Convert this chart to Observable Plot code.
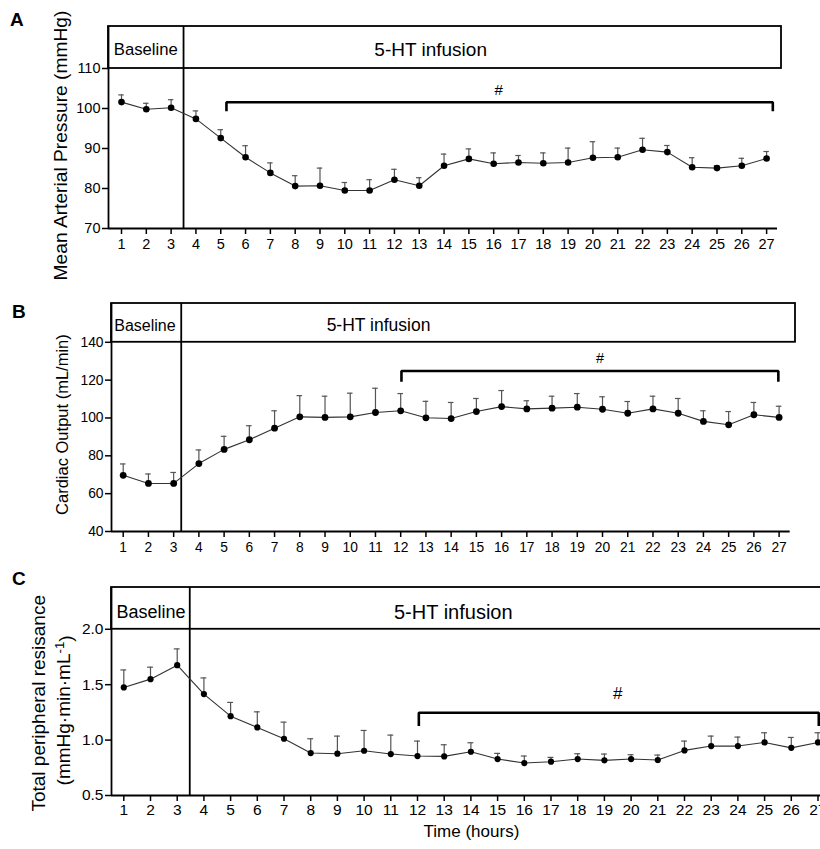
<!DOCTYPE html>
<html><head><meta charset="utf-8">
<script src="https://cdn.jsdelivr.net/npm/d3@7"></script>
<script src="https://cdn.jsdelivr.net/npm/@observablehq/plot@0.6"></script>
<style>
body{margin:0;background:#fff;overflow:hidden;font-family:"Liberation Sans",Arial,sans-serif;}
#wrap{position:relative;width:820px;height:849px;overflow:hidden;background:#fff;}
.panel{position:absolute;left:0;}
.letter{position:absolute;font-weight:bold;font-size:19px;line-height:1;color:#000;}
</style></head><body><div id="wrap"></div>
<script>
const hours = [1,2,3,4,5,6,7,8,9,10,11,12,13,14,15,16,17,18,19,20,21,22,23,24,25,26,27];

// Panel A: Mean arterial pressure (mmHg), mean and SEM
const mapMean = [101.6,99.8,100.2,97.4,92.6,87.8,83.9,80.6,80.7,79.5,79.5,82.2,80.7,85.7,87.4,86.2,86.5,86.3,86.5,87.7,87.8,89.7,89.1,85.3,85.1,85.7,87.5];
const mapSem  = [1.8,1.5,2.0,2.0,2.1,2.9,2.5,2.6,4.4,2.0,2.7,2.6,2.0,2.9,2.5,2.7,1.75,2.6,3.6,4.0,2.3,2.85,1.65,2.4,0.6,1.85,1.75];
const mapTicks = [70,80,90,100,110];

// Panel B: Cardiac output (mL/min)
const coMean = [69.7,65.4,65.4,75.9,83.4,88.5,94.6,100.6,100.3,100.6,102.9,103.8,100.1,99.7,103.4,106.0,104.8,105.2,105.7,104.6,102.5,104.8,102.5,98.2,96.4,101.7,100.3];
const coSem  = [6.0,5.0,5.8,7.2,6.9,7.4,9.2,11.2,11.2,12.5,12.8,9.1,8.7,8.5,6.9,8.5,4.3,6.3,7.2,6.6,6.2,6.7,7.8,5.6,7.0,6.5,5.9];
const coTicks = [40,60,80,100,120,140];

// Panel C: Total peripheral resistance
const tprMean = [1.475,1.55,1.676,1.415,1.216,1.114,1.012,0.883,0.877,0.904,0.874,0.856,0.853,0.895,0.829,0.793,0.805,0.829,0.817,0.829,0.82,0.907,0.946,0.946,0.979,0.93,0.979];
const tprSem  = [0.158,0.108,0.147,0.146,0.124,0.141,0.15,0.129,0.159,0.183,0.171,0.135,0.105,0.081,0.051,0.063,0.039,0.048,0.057,0.039,0.045,0.084,0.09,0.081,0.087,0.094,0.087];
const tprTicks = [0.5,1.0,1.5,2.0];

// significance brackets (start hour, end hour)
const sigA = [5.23, 27.25];
const sigB = [12.03, 26.97];
const sigC = [12.05, 27.03];

const FONT = '"Liberation Sans", Arial, Helvetica, sans-serif';

function panel(c) {
  const data = hours.map((h, i) => ({h, m: c.mean[i], top: c.mean[i] + c.sem[i]}));
  const x0 = c.xDomain[0];
  const yb = c.yTicks[0], yt = c.yTicks[c.yTicks.length - 1];
  const boxTop = c.yDomain[1];
  const br = [
    {x: c.sig[0], y: c.sigDrop}, {x: c.sig[0], y: c.sigY},
    {x: c.sig[1], y: c.sigY}, {x: c.sig[1], y: c.sigDrop}
  ];
  const marks = [
    Plot.axisX({ticks: hours, tickSize: 6, tickPadding: c.xPad, tickFormat: d => String(d), strokeWidth: 1.5, label: null, fontSize: c.tickFont}),
    Plot.axisY({ticks: c.yTicks, tickSize: 6, tickPadding: 2, tickFormat: c.yFmt, strokeWidth: 1.5, label: null, fontSize: c.tickFont}),
    Plot.ruleY([yb], {x1: x0, x2: c.xAxisEnd, strokeWidth: 1.8}),
    Plot.ruleX([x0], {y1: yb, y2: boxTop, strokeWidth: 1.8}),
    Plot.rect([0], {x1: x0, x2: c.boxRight, y1: yt, y2: boxTop, fill: "none", stroke: "black", strokeWidth: 1.8}),
    Plot.ruleX([c.divider], {y1: yb, y2: boxTop, strokeWidth: 1.8}),
    Plot.text(["Baseline"], {x: c.baseX, y: c.headY, fontSize: c.baseFont}),
    Plot.text(["5-HT infusion"], {x: c.infX, y: c.headY, fontSize: c.infFont}),
    Plot.ruleX(data, {x: "h", y1: "m", y2: "top", stroke: "#555", strokeWidth: 1.2}),
    Plot.ruleY(data, {y: "top", x1: d => d.h - 0.11, x2: d => d.h + 0.11, stroke: "#555", strokeWidth: 1.2}),
    Plot.line(data, {x: "h", y: "m", stroke: "#333", strokeWidth: 1.1}),
    Plot.dot(data, {x: "h", y: "m", r: c.r, fill: "black", stroke: "none"}),
    Plot.line(br, {x: "x", y: "y", stroke: "black", strokeWidth: 2.6, strokeLinejoin: "miter", strokeLinecap: "butt"}),
    Plot.text(["#"], {x: c.hashX, y: c.hashY, fontSize: c.hashFont}),
  ];
  c.ylabels.forEach(l => marks.push(Plot.text([l.t], {y: l.y, frameAnchor: "left", textAnchor: "middle", lineAnchor: "middle", dx: l.dx, rotate: -90, fontSize: l.f})));
  if (c.extra) marks.push(...c.extra);
  return Plot.plot({
    width: 820, height: c.height,
    marginLeft: c.ml, marginRight: c.mr, marginTop: c.mt, marginBottom: c.mb,
    style: {fontFamily: FONT, background: "white", color: "black"},
    x: {domain: c.xDomain},
    y: {domain: c.yDomain},
    marks
  });
}

const wrap = document.getElementById("wrap");
function place(svg, top) {
  svg.classList.add("panel");
  svg.style.top = top + "px";
  wrap.appendChild(svg);
}
function letter(t, left, top) {
  const d = document.createElement("div");
  d.className = "letter"; d.textContent = t;
  d.style.left = left + "px"; d.style.top = top + "px";
  wrap.appendChild(d);
}

const A = panel({
  mean: mapMean, sem: mapSem, yTicks: mapTicks, yFmt: d => String(d),
  height: 290, ml: 108, mr: 39, mt: 26, mb: 62,
  xDomain: [0.476, 27.6], yDomain: [70, 120.5], boxRight: 27.6, xAxisEnd: 27.44,
  divider: 3.5, tickFont: 14.5, xPad: 4, r: 3.3,
  baseX: 1.98, infX: 13.46, headY: 114.6, baseFont: 16.7, infFont: 19,
  sig: sigA, sigY: 101.58, sigDrop: 99.33, hashX: 16.2, hashY: 104.5, hashFont: 15,
  ylabels: [{t: "Mean Arterial Pressure (mmHg)", y: 90.75, dx: -48, f: 19.2}]
});
place(A, 0);

const B = panel({
  mean: coMean, sem: coSem, yTicks: coTicks, yFmt: d => String(d),
  height: 290, ml: 111, mr: 25, mt: 13, mb: 49,
  xDomain: [0.536, 27.65], yDomain: [40, 160.5], boxRight: 27.65, xAxisEnd: 27.44,
  divider: 3.3, tickFont: 13.8, xPad: 5, r: 3.4,
  baseX: 1.86, infX: 11.12, headY: 148.7, baseFont: 16, infFont: 17.5,
  sig: sigB, sigY: 124.8, sigDrop: 119.2, hashX: 19.9, hashY: 131.3, hashFont: 14.5,
  ylabels: [{t: "Cardiac Output (mL/min)", y: 96.5, dx: -49, f: 16.5}]
});
place(B, 290);

const C = panel({
  mean: tprMean, sem: tprSem, yTicks: tprTicks, yFmt: d3.format(".1f"),
  height: 269, ml: 111, mr: 0, mt: 7, mb: 54,
  xDomain: [0.539, 27.094], yDomain: [0.5, 2.377], boxRight: 27.4, xAxisEnd: 27.4,
  divider: 3.47, tickFont: 15.5, xPad: 2, r: 3.1,
  baseX: 2.02, infX: 13.34, headY: 2.155, baseFont: 18, infFont: 20,
  sig: sigC, sigY: 1.247, sigDrop: 1.127, hashX: 19.5, hashY: 1.42, hashFont: 17,
  ylabels: [
    {t: "Total peripheral resisance", y: 1.332, dx: -73, f: 19},
    {t: "(mmHg·min·mL-1)", y: 1.268, dx: -48, f: 19}
  ],
  extra: [Plot.text(["Time (hours)"], {x: 14.02, frameAnchor: "bottom", dy: 41, fontSize: 17})]
});
place(C, 580);

// superscript for mL^-1
d3.select(C).selectAll("text").filter(function() { return this.textContent === "(mmHg·min·mL-1)"; })
  .each(function() {
    const t = d3.select(this);
    t.text(null);
    t.append("tspan").text("(mmHg·min·mL");
    t.append("tspan").attr("dy", "-0.45em").attr("font-size", "0.7em").text("-1");
    t.append("tspan").attr("dy", "0.45em").text(")");
  });

letter("A", 10, 10);
letter("B", 12, 302);
letter("C", 12, 569);
</script></body></html>
